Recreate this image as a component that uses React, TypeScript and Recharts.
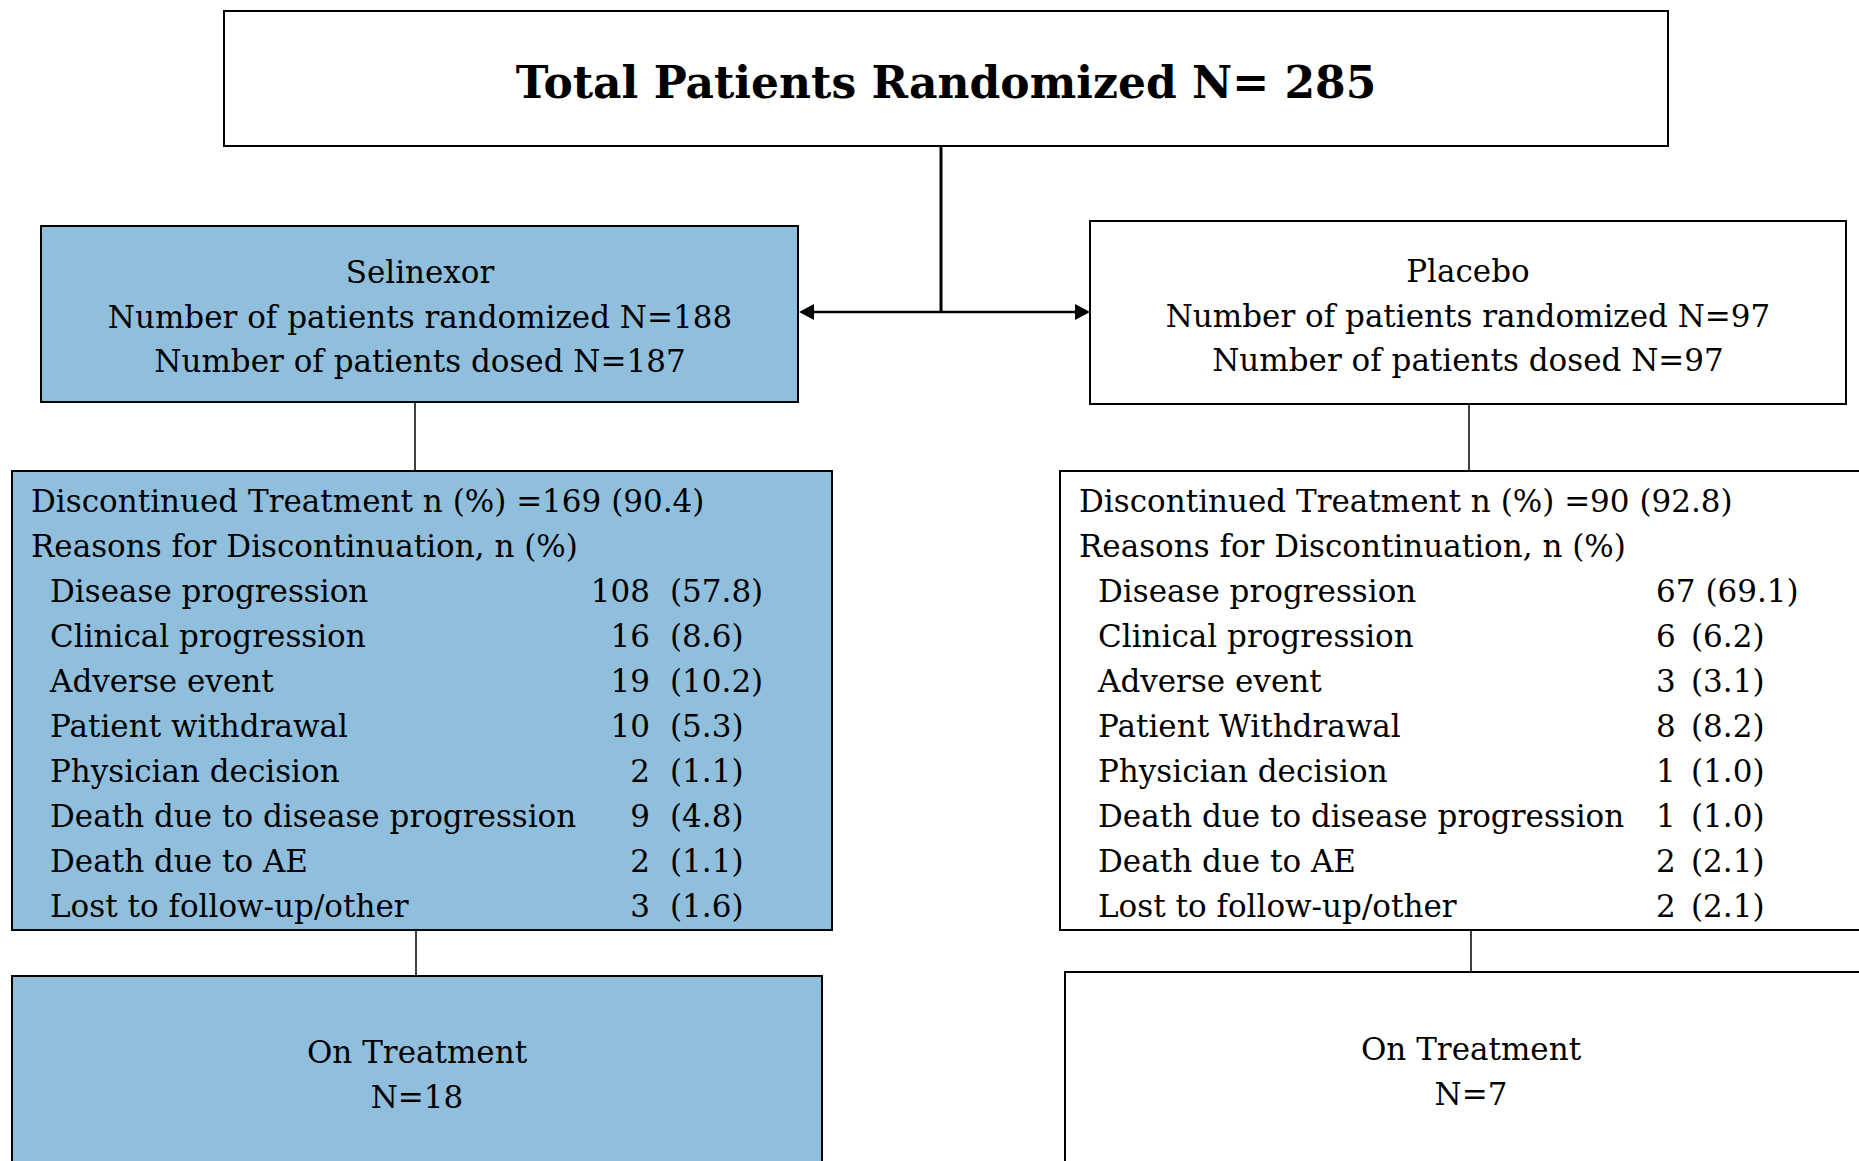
import { ScatterChart, Scatter, XAxis, YAxis, ReferenceArea, ReferenceLine } from 'recharts';

// flow diagram values
const titleText = 'Total Patients Randomized N= 285';
const arms = ['Selinexor', 'Placebo'];
const randomized = [188, 97];
const dosed = [187, 97];
const discontinued = [169, 90];
const discontinuedPct = ['90.4', '92.8'];
const selinexorReasons = [
  'Disease progression',
  'Clinical progression',
  'Adverse event',
  'Patient withdrawal',
  'Physician decision',
  'Death due to disease progression',
  'Death due to AE',
  'Lost to follow-up/other',
];
const placeboReasons = [
  'Disease progression',
  'Clinical progression',
  'Adverse event',
  'Patient Withdrawal',
  'Physician decision',
  'Death due to disease progression',
  'Death due to AE',
  'Lost to follow-up/other',
];
const selinexorN = [108, 16, 19, 10, 2, 9, 2, 3];
const selinexorPct = ['57.8', '8.6', '10.2', '5.3', '1.1', '4.8', '1.1', '1.6'];
const placeboN = [67, 6, 3, 8, 1, 1, 2, 2];
const placeboPct = ['69.1', '6.2', '3.1', '8.2', '1.0', '1.0', '2.1', '2.1'];
const onTreatment = [18, 7];

const W = 1859;
const H = 1161;
const BLUE = '#8fbfdd';
const FONT = 'DejaVu Serif';
const BODY = 31;
const DIGIT = BODY * 0.636;

// layout of the two arms (page coordinates)
const panels = [
  {
    arm: { x1: 41, x2: 798, y1: 226, y2: 402, cx: 420, base: 283 },
    disc: { x1: 12, x2: 832, y1: 471, y2: 930, hx: 31, lx: 50, numX: 650, numAnchor: 'end', pctX: 670 },
    on: { x1: 12, x2: 822, y1: 976, y2: 1200, cx: 417, base: 1063 },
    link1: { x: 415, y1: 402, y2: 471 },
    link2: { x: 416, y1: 930, y2: 976 },
    fill: BLUE,
    reasons: selinexorReasons,
    n: selinexorN,
    pct: selinexorPct,
  },
  {
    arm: { x1: 1090, x2: 1846, y1: 221, y2: 404, cx: 1468, base: 282 },
    disc: { x1: 1060, x2: 1880, y1: 471, y2: 930, hx: 1079, lx: 1098, numX: 1656, numAnchor: 'start', pctX: 1691 },
    on: { x1: 1065, x2: 1880, y1: 972, y2: 1200, cx: 1471, base: 1060 },
    link1: { x: 1469, y1: 404, y2: 471 },
    link2: { x: 1471, y1: 930, y2: 972 },
    fill: '#ffffff',
    reasons: placeboReasons,
    n: placeboN,
    pct: placeboPct,
  },
];

type Label = { x: number; y: number; text: string; anchor?: string; size?: number; weight?: string };

const labels: Label[] = [{ x: 946, y: 98, text: titleText, anchor: 'middle', size: 44, weight: 'bold' }];
panels.forEach((p, i) => {
  labels.push({ x: p.arm.cx, y: p.arm.base, text: arms[i], anchor: 'middle' });
  labels.push({ x: p.arm.cx, y: p.arm.base + 45, text: `Number of patients randomized N=${randomized[i]}`, anchor: 'middle' });
  labels.push({ x: p.arm.cx, y: p.arm.base + 89, text: `Number of patients dosed N=${dosed[i]}`, anchor: 'middle' });
  labels.push({ x: p.disc.hx, y: 512, text: `Discontinued Treatment n (%) =${discontinued[i]} (${discontinuedPct[i]})` });
  labels.push({ x: p.disc.hx, y: 557, text: 'Reasons for Discontinuation, n (%)' });
  p.reasons.forEach((r, j) => {
    const y = 602 + j * 45;
    const num = String(p.n[j]);
    labels.push({ x: p.disc.lx, y, text: r });
    labels.push({ x: p.disc.numX, y, text: num, anchor: p.disc.numAnchor });
    // keep the percentage clear of a wide count
    const numEnd = p.disc.numAnchor === 'end' ? p.disc.numX : p.disc.numX + num.length * DIGIT;
    labels.push({ x: Math.max(p.disc.pctX, numEnd + 10), y, text: `(${p.pct[j]})` });
  });
  labels.push({ x: p.on.cx, y: p.on.base, text: 'On Treatment', anchor: 'middle' });
  labels.push({ x: p.on.cx, y: p.on.base + 45, text: `N=${onTreatment[i]}`, anchor: 'middle' });
});

const arrowHeads = [
  { x: 799, y: 312, dir: -1 },
  { x: 1090, y: 312, dir: 1 },
];

const TextShape = (props: any) => {
  const { cx, cy, payload } = props;
  return (
    <text
      x={cx}
      y={cy}
      textAnchor={payload.anchor || 'start'}
      fontSize={payload.size || BODY}
      fontWeight={payload.weight || 'normal'}
      fontFamily={FONT}
      fill="#000"
      style={{ whiteSpace: 'pre' }}
    >
      {payload.text}
    </text>
  );
};

const ArrowShape = (props: any) => {
  const { cx, cy, payload } = props;
  const d = payload.dir;
  const pts = `${cx},${cy} ${cx - d * 15},${cy - 8} ${cx - d * 15},${cy + 8}`;
  return <polygon points={pts} fill="#000" />;
};

const FlowChart = () => {
  return (
    <div style={{ width: W, height: H, overflow: 'hidden', background: '#fff' }}>
      <style>{'body{margin:0;}'}</style>
      <ScatterChart width={W} height={H} margin={{ top: 0, right: 0, bottom: 0, left: 0 }}>
        <XAxis type="number" dataKey="x" domain={[0, W]} hide allowDataOverflow />
        <YAxis type="number" dataKey="y" domain={[0, H]} reversed hide allowDataOverflow />

        {/* boxes */}
        <ReferenceArea x1={224} x2={1668} y1={11} y2={146} fill="#fff" fillOpacity={1} stroke="#000" strokeWidth={2} ifOverflow="visible" />
        {panels.map((p, i) => (
          <ReferenceArea key={`a${i}`} x1={p.arm.x1} x2={p.arm.x2} y1={p.arm.y1} y2={p.arm.y2} fill={p.fill} fillOpacity={1} stroke="#000" strokeWidth={2} ifOverflow="visible" />
        ))}
        {panels.map((p, i) => (
          <ReferenceArea key={`d${i}`} x1={p.disc.x1} x2={p.disc.x2} y1={p.disc.y1} y2={p.disc.y2} fill={p.fill} fillOpacity={1} stroke="#000" strokeWidth={2} ifOverflow="visible" />
        ))}
        {panels.map((p, i) => (
          <ReferenceArea key={`o${i}`} x1={p.on.x1} x2={p.on.x2} y1={p.on.y1} y2={p.on.y2} fill={p.fill} fillOpacity={1} stroke="#000" strokeWidth={2} ifOverflow="visible" />
        ))}

        {/* connectors */}
        <ReferenceLine segment={[{ x: 941, y: 146 }, { x: 941, y: 313 }]} stroke="#000" strokeWidth={3} ifOverflow="visible" />
        <ReferenceLine segment={[{ x: 808, y: 312 }, { x: 1080, y: 312 }]} stroke="#000" strokeWidth={2.5} ifOverflow="visible" />
        {panels.map((p, i) => (
          <ReferenceLine key={`l1${i}`} segment={[{ x: p.link1.x, y: p.link1.y1 }, { x: p.link1.x, y: p.link1.y2 }]} stroke="#000" strokeWidth={1.5} ifOverflow="visible" />
        ))}
        {panels.map((p, i) => (
          <ReferenceLine key={`l2${i}`} segment={[{ x: p.link2.x, y: p.link2.y1 }, { x: p.link2.x, y: p.link2.y2 }]} stroke="#000" strokeWidth={1.5} ifOverflow="visible" />
        ))}

        <Scatter data={arrowHeads} shape={ArrowShape} isAnimationActive={false} />
        <Scatter data={labels} shape={TextShape} isAnimationActive={false} />
      </ScatterChart>
    </div>
  );
};

export default function App() {
  return <FlowChart />;
}
